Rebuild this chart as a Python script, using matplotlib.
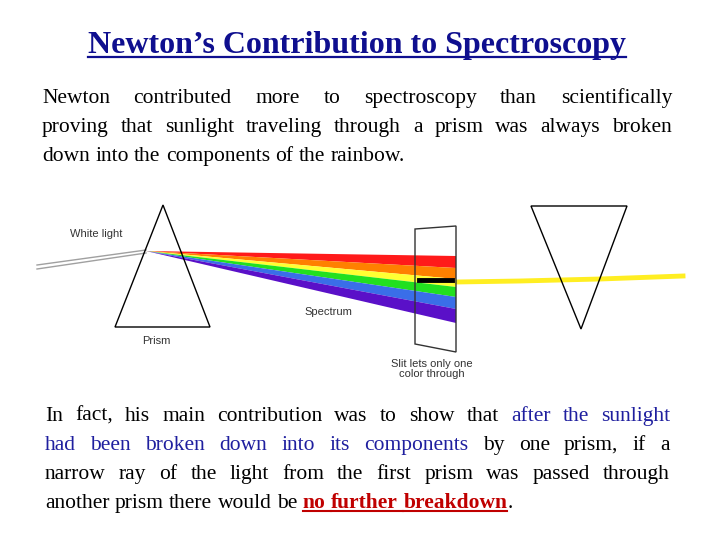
import matplotlib
matplotlib.use("Agg")
from matplotlib import pyplot as plt
from matplotlib.patches import Polygon

# slide text
title = "Newton\u2019s Contribution to Spectroscopy"
BLUE = "#1f1f9f"
RED = "#c00000"
para1 = [
    [("Newton contributed more to spectroscopy than scientifically", "k", False)],
    [("proving that sunlight traveling through a prism was always broken", "k", False)],
    [("down into the components of the rainbow.", "k", False)],
]
para2 = [
    [("In fact, his main contribution was to show that", "k", False), ("after the sunlight", BLUE, False)],
    [("had been broken down into its components", BLUE, False), ("by one prism, if a", "k", False)],
    [("narrow ray of the light from the first prism was passed through", "k", False)],
    [("another prism there would be", "k", False), ("no further breakdown", RED, True), (".", "k", False)],
]

# diagram geometry (slide pixels)
prism1 = [(163, 205), (115, 327), (210, 327)]
prism2 = [(531, 206), (627, 206), (581, 329)]
screen = [(415, 229), (456, 226), (456, 352), (415, 344)]
source = (146, 251)
screen_x = 456
band_edges = [256, 268, 279, 287, 297, 309, 323]
band_colors = ["#ff1a1a", "#ff8000", "#ffff33", "#22e01f", "#3a6ee8", "#5a10c8"]
beam_x = [456, 520, 600, 683]
beam_y = [282, 281, 279, 276]

fig = plt.figure(figsize=(7.2, 5.4), dpi=100)
ax = fig.add_axes([0, 0, 1, 1])
ax.set_xlim(0, 720)
ax.set_ylim(540, 0)
ax.axis("off")
fig.canvas.draw()
rend = fig.canvas.get_renderer()
FONT = "Liberation Serif"
SIZE = 15.5


def width(s, bold=False, size=SIZE):
    t = ax.text(0, 0, s, fontsize=size, family=FONT, weight="bold" if bold else "normal")
    w = t.get_window_extent(rend).width
    t.remove()
    return w


def draw_para(lines, x0, x1, y0, dy):
    for i, segs in enumerate(lines):
        words = []
        for txt, col, bold in segs:
            for j, w in enumerate(txt.split(" ")):
                words.append((w, col, bold, j == 0 and txt == "."))
        last = i == len(lines) - 1
        ws = [width(w, b) for w, c, b, _ in words]
        gaps = [0 if words[k + 1][3] else 1 for k in range(len(words) - 1)]
        space = width("a a") - width("aa")
        if not last and sum(gaps):
            space = (x1 - x0 - sum(ws)) / sum(gaps)
        x = x0
        y = y0 + i * dy + 6
        for k, (w, col, bold, _) in enumerate(words):
            ax.text(x, y, w, fontsize=SIZE, family=FONT, color=col,
                    weight="bold" if bold else "normal", va="baseline")
            nxt = x + ws[k] + (space * gaps[k] if k < len(gaps) else 0)
            if bold:
                end = nxt if k + 1 < len(words) and words[k + 1][2] else x + ws[k]
                ax.plot([x, end], [y + 3, y + 3], color=col, lw=1.5)
            x = nxt


ax.text(357, 53, title, fontsize=23, family=FONT, weight="bold", color="#0f0f8f",
        ha="center", va="baseline")
tw = width(title, True, 23)
ax.plot([357 - tw / 2, 357 + tw / 2], [57, 57], color="#0f0f8f", lw=1.6)

draw_para(para1, 42, 672, 97, 29)
draw_para(para2, 45, 670, 415, 29)

# white light beam
ax.plot([37, source[0]], [265, source[1] - 1], color="#a0a0a0", lw=1)
ax.plot([37, source[0]], [269, source[1] + 2], color="#a0a0a0", lw=1)

# spectrum fan
for k, col in enumerate(band_colors):
    ax.add_patch(Polygon([source, (screen_x, band_edges[k]), (screen_x, band_edges[k + 1])],
                         closed=True, facecolor=col, edgecolor="none", zorder=2))

for tri in (prism1, prism2):
    ax.add_patch(Polygon(tri, closed=True, fill=False, edgecolor="k", lw=1, zorder=3))
ax.add_patch(Polygon(screen, closed=True, fill=False, edgecolor="#333333", lw=1, zorder=3))
ax.plot([419, 452], [280, 280], color="k", lw=3.5, zorder=4)
ax.plot(beam_x, beam_y, color="#ffee22", lw=3.5, zorder=2)

for x, y, s in [(70, 234, "White light"), (304, 312, "Spectrum"), (142, 341, "Prism")]:
    ax.text(x, y, s, fontsize=8, family="Liberation Sans", color="#333333", va="center")
ax.text(432, 369, "Slit lets only one\ncolor through", fontsize=8, family="Liberation Sans",
        color="#333333", ha="center", va="center", linespacing=1.1)

fig.savefig("out.png", dpi=100)
